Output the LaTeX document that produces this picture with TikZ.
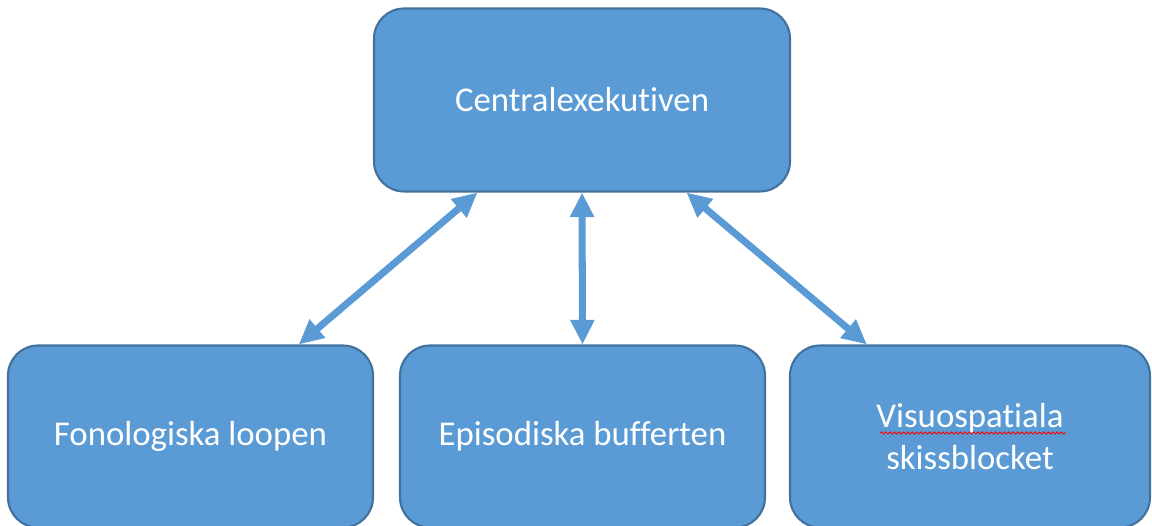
\documentclass[tikz,border=0pt]{standalone}
\usepackage{fontspec}
\setmainfont{Carlito}[Ligatures=NoCommon]
\usetikzlibrary{arrows.meta,calc,decorations.pathmorphing}
\definecolor{boxblue}{HTML}{5B9BD5}
\definecolor{boxline}{HTML}{41719C}

\begin{document}
\begin{tikzpicture}[
    x=0.02cm, y=-0.02cm,
    box/.style = {draw=boxline, line width=1.2pt, fill=boxblue, rounded corners=0.6cm,
        text=white, font=\fontsize{19.8}{24.4}\selectfont, align=center,
        inner sep=0pt, minimum height=3.64cm},
    link/.style = {draw=boxblue, line width=4pt,
        {Triangle[width=13pt,length=14pt]}-{Triangle[width=13pt,length=14pt]}}
     ]
  \useasboundingbox (0,0) rectangle (1152,526);
  \node[box, minimum width=8.32cm, minimum height=3.66cm] (central) at (582,100) {Centralexekutiven};
  \node[box, minimum width=7.3cm] (fono) at (190.5,436.5) {Fonologiska loopen};
  \node[box, minimum width=7.3cm] (epi) at (582.5,436.5) {Episodiska bufferten};
  \node[box, minimum width=7.2cm] (visuo) at (970,436.5) {Visuospatiala\\skissblocket};
  % spelling mark under the first word
  \draw[red, line width=0.5pt, decoration={snake, amplitude=0.6pt, segment length=2.5pt}, decorate]
    (880,433) -- (1066,433);
  \draw[link] ($(central.south west)!0.25!(central.south east)$) -- ($(fono.north west)!0.795!(fono.north east)$);
  \draw[link] (central.south) -- (epi.north);
  \draw[link] ($(central.south west)!0.75!(central.south east)$) -- ($(visuo.north west)!0.215!(visuo.north east)$);
\end{tikzpicture}
\end{document}
